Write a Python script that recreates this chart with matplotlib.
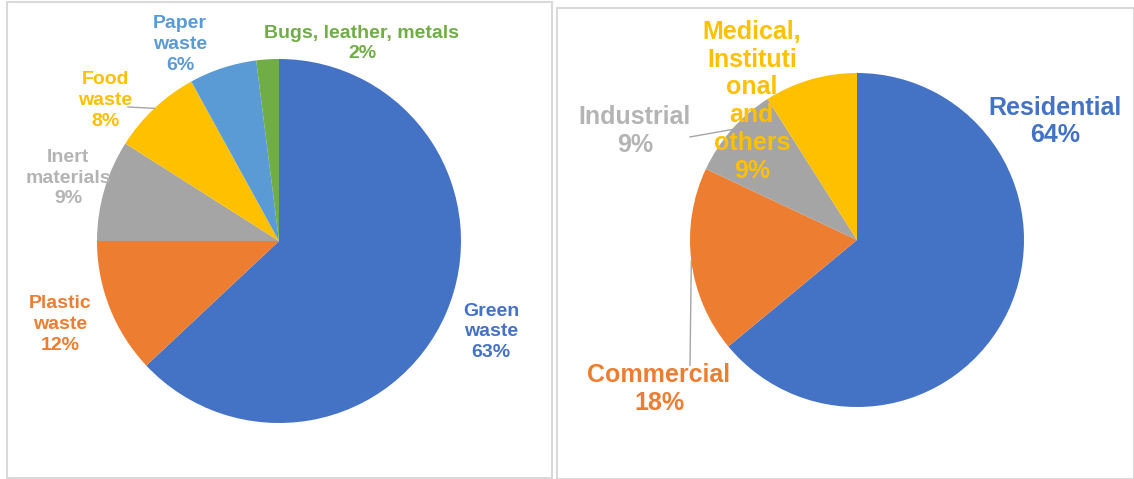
import numpy as np
import matplotlib.pyplot as plt
from matplotlib.patches import Rectangle

plt.rcParams['font.family'] = ['Liberation Sans', 'DejaVu Sans']

# Left chart: waste composition
left_labels = ['Green\nwaste\n63%', 'Plastic\nwaste\n12%', 'Inert\nmaterials\n9%',
               'Food\nwaste\n8%', 'Paper\nwaste\n6%', 'Bugs, leather, metals\n2%']
left_values = [63, 12, 9, 8, 6, 2]
left_colors = ['#4472C4', '#ED7D31', '#A5A5A5', '#FFC000', '#5B9BD5', '#70AD47']
left_text_colors = ['#4472C4', '#ED7D31', '#B4B4B4', '#FFC000', '#5B9BD5', '#70AD47']
left_label_pos = [(1.165, -0.50), (-1.203, -0.46), (-1.159, 0.346),
                  (-0.956, 0.77), (-0.544, 1.08), (0.456, 1.085)]

# Right chart: waste sources
right_labels = ['Residential\n64%', 'Commercial\n18%', 'Industrial\n9%',
                'Medical,\nInstituti\nonal\nand\nothers\n9%']
right_values = [64, 18, 9, 9]
right_colors = ['#4472C4', '#ED7D31', '#A5A5A5', '#FFC000']
right_text_colors = ['#4472C4', '#ED7D31', '#B4B4B4', '#FFC000']
right_label_pos = [(1.186, 0.71), (-1.186, -0.89), (-1.33, 0.655), (-0.63, 0.83)]

W, H = 1134, 479
fig = plt.figure(figsize=(W / 100, H / 100), dpi=100)

# panel frames
for x0, y0, x1, y1 in [(7, 2, 552, 478), (557, 8, 1134, 479)]:
    fig.patches.append(Rectangle((x0 / W, 1 - y1 / H), (x1 - x0) / W, (y1 - y0) / H,
                                 transform=fig.transFigure, fill=False,
                                 edgecolor='#D9D9D9', linewidth=1.5))


def pie_panel(box, center, radius, values, colors, labels, text_colors, label_pos, fs, ls):
    x0, y0, x1, y1 = box
    cx, cy = center
    ax = fig.add_axes([x0 / W, 1 - y1 / H, (x1 - x0) / W, (y1 - y0) / H])
    wedges, _ = ax.pie(values, colors=colors, startangle=90, counterclock=False,
                       wedgeprops=dict(linewidth=0))
    ax.set_xlim((x0 - cx) / radius, (x1 - cx) / radius)
    ax.set_ylim((cy - y1) / radius, (cy - y0) / radius)
    ax.set_aspect('auto')
    ax.axis('off')
    for lab, col, (tx, ty) in zip(labels, text_colors, label_pos):
        ax.text(tx, ty, lab, ha='center', va='center', multialignment='center',
                color=col, fontsize=fs, fontweight='bold', linespacing=ls, zorder=5)
    return ax, wedges


def leader(ax, wedge, end):
    ang = np.deg2rad((wedge.theta1 + wedge.theta2) / 2)
    ax.plot([np.cos(ang), end[0]], [np.sin(ang), end[1]], color='#A6A6A6', lw=1, zorder=4)


axl, wl = pie_panel((7, 2, 552, 478), (279, 241), 182, left_values, left_colors,
                    left_labels, left_text_colors, left_label_pos, 14, 1.3)
leader(axl, wl[3], (-0.83, 0.736))

axr, wr = pie_panel((557, 8, 1134, 479), (857, 240), 167, right_values, right_colors,
                    right_labels, right_text_colors, right_label_pos, 18, 1.2)
leader(axr, wr[2], (-1.0, 0.617))
leader(axr, wr[1], (-1.0, -0.75))

fig.savefig('out.png', dpi=100)
